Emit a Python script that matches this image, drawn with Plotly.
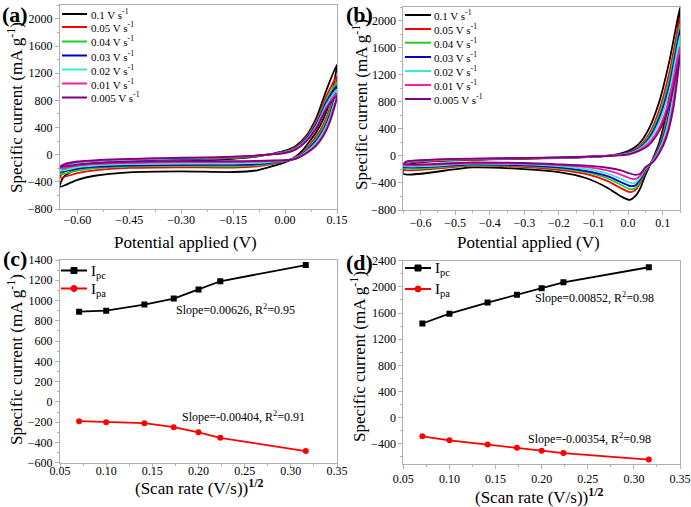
import plotly.graph_objects as go

W, H = 691, 507
FONT = "Liberation Serif"

# ---------------- data ----------------
SCAN_LABELS = ["0.1", "0.05", "0.04", "0.03", "0.02", "0.01", "0.005"]
COLORS = ["#000000", "#ff0000", "#22cc22", "#0000cc", "#33eecc", "#ff1aa8", "#800080"]

# Panel (a): potential sweep (forward then reverse), V
POT_A = [-0.65, -0.64, -0.60, -0.50, -0.40, -0.30, -0.20, -0.10, -0.05, 0.00, 0.03, 0.06, 0.09, 0.12, 0.15,
         0.13, 0.11, 0.09, 0.07, 0.05, 0.03, 0.01, -0.03, -0.08, -0.15, -0.30, -0.45, -0.55, -0.60, -0.65]
A_01 = [-470, -330, -210, -150, -120, -95, -75, -40, 0, 60, 125, 270, 540, 960, 1330,
        800, 520, 330, 190, 60, -30, -90, -160, -230, -255, -245, -260, -310, -370, -470]
A_005 = [-340, -260, -170, -120, -95, -75, -60, -30, 0, 50, 110, 250, 500, 870, 1160,
         700, 440, 270, 140, 30, -40, -80, -130, -170, -190, -185, -195, -230, -270, -340]
A_004 = [-290, -230, -150, -105, -85, -70, -55, -28, 0, 45, 100, 235, 470, 820, 1070,
         650, 400, 240, 120, 20, -45, -80, -120, -155, -170, -165, -175, -200, -235, -290]
A_003 = [-250, -200, -135, -95, -78, -62, -50, -25, 0, 40, 95, 225, 450, 780, 1010,
         600, 360, 210, 100, 10, -50, -80, -110, -140, -150, -150, -160, -180, -205, -250]
A_002 = [-240, -190, -125, -85, -70, -55, -45, -22, 0, 35, 88, 210, 425, 740, 960,
         560, 330, 180, 80, 0, -55, -80, -100, -120, -130, -130, -140, -160, -185, -240]
A_001 = [-200, -160, -110, -75, -60, -48, -40, -20, 0, 30, 80, 200, 400, 700, 900,
         510, 290, 150, 60, -10, -60, -80, -90, -100, -110, -110, -120, -140, -160, -200]
A_0005 = [-180, -145, -100, -68, -55, -45, -38, -18, 0, 25, 75, 190, 385, 680, 870,
          490, 270, 135, 50, -15, -60, -78, -85, -92, -95, -95, -105, -125, -145, -180]

# Panel (b)
POT_B = [-0.65, -0.64, -0.60, -0.50, -0.40, -0.30, -0.20, -0.10, -0.05, 0.00, 0.03, 0.06, 0.09, 0.12, 0.15,
         0.13, 0.11, 0.09, 0.07, 0.05, 0.035, 0.02, 0.005, -0.02, -0.06, -0.12, -0.20, -0.30, -0.45, -0.65]
B_01 = [-265, -130, -95, -65, -52, -42, -32, -12, 8, 70, 170, 400, 800, 1420, 2200,
        1300, 620, 200, -60, -280, -480, -600, -650, -600, -470, -330, -240, -195, -170, -265]
B_005 = [-205, -115, -85, -58, -47, -38, -28, -10, 6, 50, 130, 320, 680, 1250, 2050,
         1150, 520, 150, -70, -240, -400, -510, -535, -480, -370, -270, -205, -165, -145, -205]
B_004 = [-185, -105, -80, -55, -45, -36, -27, -10, 5, 45, 115, 290, 620, 1150, 1950,
         1060, 470, 130, -75, -220, -380, -480, -490, -430, -330, -245, -185, -150, -135, -185]
B_003 = [-165, -100, -76, -52, -43, -34, -26, -9, 5, 40, 105, 260, 560, 1060, 1870,
         970, 420, 110, -80, -205, -350, -440, -445, -390, -300, -225, -170, -140, -125, -165]
B_002 = [-150, -95, -72, -50, -41, -33, -25, -9, 4, 35, 95, 230, 500, 980, 1780,
         880, 380, 90, -85, -190, -320, -400, -395, -340, -260, -195, -150, -125, -115, -150]
B_001 = [-135, -88, -68, -47, -39, -31, -24, -8, 3, 25, 80, 190, 420, 850, 1620,
         760, 300, 60, -95, -175, -290, -345, -330, -280, -215, -165, -135, -115, -105, -135]
B_0005 = [-120, -80, -64, -44, -37, -30, -23, -8, 2, 20, 70, 160, 370, 760, 1500,
          680, 260, 40, -100, -165, -265, -280, -260, -215, -175, -145, -125, -105, -95, -120]

A_CURVES = [A_01, A_005, A_004, A_003, A_002, A_001, A_0005]
B_CURVES = [B_01, B_005, B_004, B_003, B_002, B_001, B_0005]

# Panels (c), (d): square root of scan rate
SQRT_RATE = [0.0707, 0.1000, 0.1414, 0.1732, 0.2000, 0.2236, 0.3162]
C_IPC = [890, 900, 960, 1020, 1110, 1190, 1350]
C_IPA = [-190, -200, -210, -250, -300, -355, -485]
D_IPC = [1440, 1590, 1760, 1880, 1980, 2070, 2300]
D_IPA = [-285, -345, -410, -460, -505, -540, -640]

PEAK_NAMES = ["I<sub>pc</sub>", "I<sub>pa</sub>"]
PEAK_COLORS = ["black", "red"]
PEAK_SYMBOLS = ["square", "circle"]

FIT_TEXT = {
    "c_pc": "Slope=0.00626, R<sup>2</sup>=0.95",
    "c_pa": "Slope=-0.00404, R<sup>2</sup>=0.91",
    "d_pc": "Slope=0.00852, R<sup>2</sup>=0.98",
    "d_pa": "Slope=-0.00354, R<sup>2</sup>=0.98",
}

# ---------------- figure ----------------
def px(x):
    return x / W


def py(y):
    return 1 - y / H


fig = go.Figure()

for lab, col, cur in zip(SCAN_LABELS, COLORS, A_CURVES):
    fig.add_trace(go.Scatter(x=POT_A, y=cur, mode="lines", name=f"{lab} V s<sup>-1</sup>",
                             line=dict(color=col, width=1.8, shape="spline", smoothing=0.7),
                             xaxis="x", yaxis="y", showlegend=False))
for lab, col, cur in zip(SCAN_LABELS, COLORS, B_CURVES):
    fig.add_trace(go.Scatter(x=POT_B, y=cur, mode="lines", name=f"{lab} V s<sup>-1</sup>",
                             line=dict(color=col, width=1.8, shape="spline", smoothing=0.7),
                             xaxis="x2", yaxis="y2", showlegend=False))

for ipc, ipa, xa, ya in [(C_IPC, C_IPA, "x3", "y3"), (D_IPC, D_IPA, "x4", "y4")]:
    for vals, nm, col, sym in zip([ipc, ipa], PEAK_NAMES, PEAK_COLORS, PEAK_SYMBOLS):
        fig.add_trace(go.Scatter(x=SQRT_RATE, y=vals, mode="lines+markers", name=nm,
                                 line=dict(color=col, width=1.8),
                                 marker=dict(symbol=sym, size=6, color=col),
                                 xaxis=xa, yaxis=ya, showlegend=False))

GRAY = "#b0b0b0"


def axis(domain, rng, dtick, tick0, minor_dtick, fmt=None, anchor=None, standoff=None):
    d = dict(domain=domain, range=rng, dtick=dtick, tick0=tick0, showline=True, mirror=True,
             linecolor=GRAY, linewidth=1, ticks="outside", ticklen=4, tickcolor=GRAY,
             showgrid=False, zeroline=False, automargin=False,
             tickfont=dict(family=FONT, size=12, color="black"),
             minor=dict(ticks="outside", ticklen=2, tickcolor=GRAY, dtick=minor_dtick, tick0=tick0))
    if fmt:
        d["tickformat"] = fmt
    if anchor:
        d["anchor"] = anchor
    if standoff is not None:
        d["ticklabelstandoff"] = standoff
    return d


XL = [px(60), px(337)]
XR = [px(403.3), px(680)]

fig.update_layout(
    width=W, height=H, margin=dict(l=0, r=0, t=0, b=0),
    paper_bgcolor="white", plot_bgcolor="white",
    font=dict(family=FONT, color="black"),
    showlegend=False,
    xaxis=axis(XL, [-0.65, 0.15], 0.15, -0.60, 0.075, ".2f", anchor="y", standoff=-4),
    yaxis=axis([py(209), py(5.4)], [-800, 2200], 400, 0, 200, anchor="x"),
    xaxis2=axis(XR, [-0.65, 0.15], 0.1, 0, 0.05, ".1f", anchor="y2", standoff=-2),
    yaxis2=axis([py(210), py(7.2)], [-800, 2200], 400, 0, 200, anchor="x2"),
    xaxis3=axis(XL, [0.05, 0.35], 0.05, 0.05, 0.025, ".2f", anchor="y3", standoff=-7),
    yaxis3=axis([py(462.7), py(260)], [-600, 1400], 200, 0, 100, anchor="x3"),
    xaxis4=axis(XR, [0.05, 0.35], 0.05, 0.05, 0.025, ".2f", anchor="y4", standoff=0),
    yaxis4=axis([py(463.5), py(260.7)], [-700, 2400], 400, 0, 200, anchor="x4"),
)

shapes = []
annotations = []

# legends for panels (a) and (b)
LEG_A_Y = [14, 27, 41.5, 55.5, 69.5, 83.5, 97.5]
LEG_B_Y = [15, 29, 42.7, 57, 71, 85, 99]
for lab, col, ya, yb in zip(SCAN_LABELS, COLORS, LEG_A_Y, LEG_B_Y):
    shapes.append(dict(type="line", xref="paper", yref="paper", x0=px(62), x1=px(87), y0=py(ya), y1=py(ya),
                       line=dict(color=col, width=2)))
    annotations.append(dict(text=f"{lab} V s<sup>-1</sup>", xref="paper", yref="paper", x=px(88.5), y=py(ya),
                            xanchor="left", yanchor="middle", showarrow=False,
                            font=dict(family=FONT, size=11, color="black")))
    shapes.append(dict(type="line", xref="paper", yref="paper", x0=px(405), x1=px(431), y0=py(yb), y1=py(yb),
                       line=dict(color=col, width=2)))
    annotations.append(dict(text=f"{lab} V s<sup>-1</sup>", xref="paper", yref="paper", x=px(432), y=py(yb),
                            xanchor="left", yanchor="middle", showarrow=False,
                            font=dict(family=FONT, size=11, color="black")))

# legends for panels (c) and (d)
for x0, ys in [(60, [270.5, 288.5]), (404, [268, 289])]:
    for nm, col, sym, yy in zip(PEAK_NAMES, PEAK_COLORS, PEAK_SYMBOLS, ys):
        shapes.append(dict(type="line", xref="paper", yref="paper", x0=px(x0 + 1), x1=px(x0 + 27),
                           y0=py(yy), y1=py(yy), line=dict(color=col, width=2)))
        cx = x0 + 14
        shapes.append(dict(type="rect" if sym == "square" else "circle", xref="paper", yref="paper",
                           x0=px(cx - 3), x1=px(cx + 3), y0=py(yy - 3), y1=py(yy + 3),
                           fillcolor=col, line=dict(color=col, width=1)))
        annotations.append(dict(text=nm, xref="paper", yref="paper", x=px(x0 + 29), y=py(yy + 1),
                                xanchor="left", yanchor="middle", showarrow=False,
                                font=dict(family=FONT, size=15, color="black")))


def label(text, x, y, size=17, angle=0, bold=False):
    annotations.append(dict(text=f"<b>{text}</b>" if bold else text, xref="paper", yref="paper",
                            x=px(x), y=py(y), xanchor="center", yanchor="middle", showarrow=False,
                            textangle=angle, font=dict(family=FONT, size=size, color="black")))


YT = "Specific current (mA g<sup>-1</sup>)"
XT2 = "(Scan rate (V/s))<sup><b>1/2</b></sup>"
label(YT, 15, 108, angle=-90)
label(YT, 360, 105, angle=-90)
label(YT, 15, 360, angle=-90)
label(YT, 358, 357, angle=-90)
label("Potential applied (V)", 186, 242)
label("Potential applied (V)", 528, 242)
label(XT2, 199, 487)
label(XT2, 539, 496)
label("(a)", 15, 14, size=22, bold=True)
label("(b)", 359, 14, size=22, bold=True)
label("(c)", 15, 258, size=22, bold=True)
label("(d)", 359, 262, size=22, bold=True)
label(FIT_TEXT["c_pc"], 236, 309, size=12)
label(FIT_TEXT["c_pa"], 243, 416, size=12)
label(FIT_TEXT["d_pc"], 594, 297, size=12)
label(FIT_TEXT["d_pa"], 589, 438, size=12)

fig.update_layout(shapes=shapes, annotations=annotations)
fig.write_html("out.html", config={"displayModeBar": False},
               post_script="document.body.style.margin='0';document.body.style.padding='0';"
                           "document.documentElement.style.overflow='hidden';")
